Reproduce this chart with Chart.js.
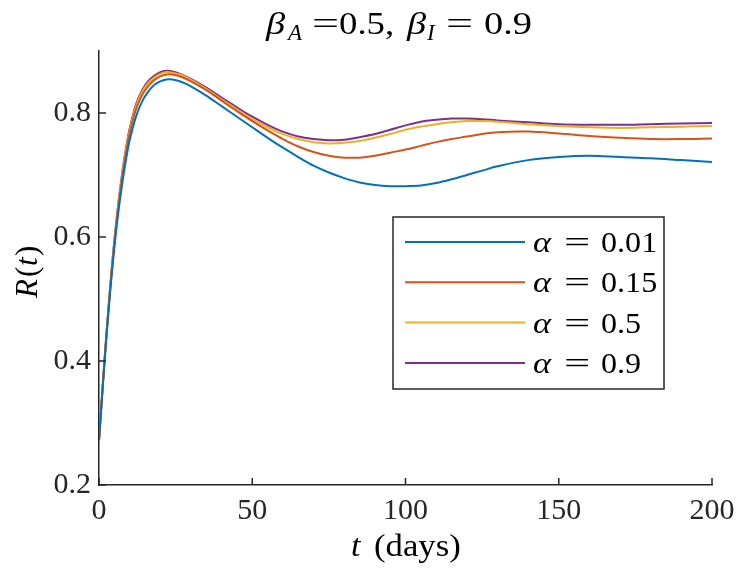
<!DOCTYPE html>
<html>
<head>
<meta charset="utf-8">
<script src="https://cdn.jsdelivr.net/npm/chart.js@4.4.1/dist/chart.umd.min.js"></script>
<style>
html,body{margin:0;padding:0;background:#fff;}
canvas{display:block;}
</style>
</head>
<body>
<canvas id="c" width="747" height="576"></canvas>
<script>
// ---- data ----
const tDays = [0,1,2,3,4,5,6,7,8,9,10,12,14,16,18,20,22,24,27,30,35,40,45,50,55,60,65,70,75,80,85,90,95,100,105,110,115,120,125,130,140,150,160,170,180,190,200];
const alpha001 = [0.272,0.343,0.411,0.474,0.531,0.582,0.627,0.666,0.700,0.730,0.756,0.793,0.818,0.834,0.845,0.851,0.854,0.854,0.850,0.843,0.828,0.811,0.794,0.777,0.760,0.744,0.729,0.715,0.704,0.695,0.688,0.684,0.682,0.682,0.683,0.687,0.693,0.700,0.707,0.714,0.724,0.729,0.731,0.729,0.727,0.724,0.721];
const alpha015 = [0.272,0.344,0.414,0.478,0.537,0.590,0.636,0.676,0.711,0.741,0.767,0.805,0.828,0.843,0.853,0.859,0.862,0.862,0.858,0.851,0.837,0.820,0.803,0.787,0.772,0.758,0.746,0.737,0.731,0.728,0.728,0.731,0.736,0.741,0.747,0.753,0.758,0.762,0.766,0.769,0.770,0.767,0.763,0.760,0.758,0.758,0.759];
const alpha05 = [0.272,0.345,0.415,0.479,0.539,0.592,0.639,0.680,0.715,0.746,0.772,0.810,0.833,0.848,0.857,0.863,0.866,0.865,0.861,0.854,0.839,0.822,0.806,0.790,0.777,0.766,0.758,0.753,0.751,0.752,0.755,0.760,0.766,0.773,0.778,0.782,0.785,0.787,0.787,0.786,0.782,0.779,0.777,0.776,0.777,0.778,0.779];
const alpha09 = [0.272,0.345,0.415,0.480,0.540,0.594,0.641,0.682,0.718,0.749,0.775,0.813,0.836,0.851,0.860,0.866,0.868,0.867,0.862,0.855,0.841,0.825,0.809,0.794,0.781,0.770,0.762,0.758,0.756,0.757,0.761,0.766,0.773,0.780,0.786,0.789,0.791,0.791,0.790,0.788,0.785,0.782,0.781,0.781,0.782,0.783,0.784];
const seriesLabels = ['α = 0.01','α = 0.15','α = 0.5','α = 0.9'];
const seriesColors = ['#0072BD','#D95319','#EDB120','#7E2F8E'];
const xTicks = [0,50,100,150,200];
const yTicks = [0.2,0.4,0.6,0.8];

const FONT = '"Liberation Serif", "DejaVu Serif", serif';
const AX = '#262626';
const seriesValues = [alpha001, alpha015, alpha05, alpha09];

// draw a text run at absolute position; sx = horizontal stretch
function run(ctx, t, x, y, sz, it, sx) {
  ctx.save();
  ctx.font = (it ? 'italic ' : '') + sz + 'px ' + FONT;
  ctx.textAlign = 'left';
  ctx.textBaseline = 'alphabetic';
  ctx.translate(x, y);
  if (sx) ctx.scale(sx, 1);
  ctx.fillText(t, 0, 0);
  ctx.restore();
}

const decor = {
  id: 'decor',
  afterDatasetsDraw(chart) {
    const ctx = chart.ctx, a = chart.chartArea;
    const xs = chart.scales.x, ys = chart.scales.y;
    ctx.save();
    ctx.strokeStyle = AX; ctx.lineWidth = 1.5;
    ctx.beginPath();
    xTicks.forEach(v => { const px = xs.getPixelForValue(v); ctx.moveTo(px, a.bottom); ctx.lineTo(px, a.bottom - 7); });
    yTicks.forEach(v => { const py = ys.getPixelForValue(v); ctx.moveTo(a.left, py); ctx.lineTo(a.left + 7, py); });
    ctx.stroke();
    ctx.restore();
  },
  afterDraw(chart) {
    const ctx = chart.ctx;
    ctx.save();
    ctx.fillStyle = '#000';
    // title: β_A =0.5, β_I = 0.9
    const ty = 34;
    run(ctx, 'β', 266, ty, 32, true, 1.2);
    run(ctx, 'A', 288, ty + 6, 23, true);
    run(ctx, '=', 312, ty, 32, false, 1.5);
    run(ctx, '0.5,', 339, ty, 32, false, 1.15);
    run(ctx, 'β', 407, ty, 32, true, 1.2);
    run(ctx, 'I', 427, ty + 6, 23, true);
    run(ctx, '=', 446, ty, 32, false, 1.5);
    run(ctx, '0.9', 484, ty, 32, false, 1.2);
    // x label: t (days)
    run(ctx, 't', 351, 556, 31, true, 1.1);
    run(ctx, '(days)', 374, 556, 31, false, 1.12);
    // y label: R(t)
    ctx.save();
    ctx.translate(37, 269);
    ctx.rotate(-Math.PI / 2);
    run(ctx, 'R', -29, 0, 31, true);
    run(ctx, '(', -8, 0, 31, false);
    run(ctx, 't', 3, 0, 31, true);
    run(ctx, ')', 13, 0, 31, false);
    ctx.restore();
    // legend
    const bx = 393, by = 217, bw = 271, bh = 172;
    ctx.fillStyle = '#fff';
    ctx.fillRect(bx, by, bw, bh);
    ctx.strokeStyle = AX; ctx.lineWidth = 1.5;
    ctx.strokeRect(bx, by, bw, bh);
    chart.data.datasets.forEach((ds, i) => {
      const ly = 242 + i * 40.3;
      ctx.strokeStyle = ds.borderColor; ctx.lineWidth = 2;
      ctx.beginPath(); ctx.moveTo(405, ly); ctx.lineTo(525, ly); ctx.stroke();
      ctx.fillStyle = '#000';
      const lab = ds.label.split(' = ');
      run(ctx, lab[0], 533, ly + 10, 30, true, 1.15);
      run(ctx, '=', 564, ly + 10, 30, false, 1.55);
      run(ctx, lab[1], 601, ly + 10, 30, false, 1.07);
    });
    ctx.restore();
  }
};

const tickFont = {family: FONT, size: 30};

new Chart(document.getElementById('c'), {
  type: 'line',
  data: {
    datasets: seriesValues.map((vals, i) => ({
      label: seriesLabels[i],
      data: tDays.map((t, j) => ({x: t, y: vals[j]})),
      borderColor: seriesColors[i],
      backgroundColor: seriesColors[i],
      borderWidth: 2,
      pointRadius: 0,
      fill: false,
      tension: 0.35
    }))
  },
  options: {
    responsive: false,
    animation: false,
    devicePixelRatio: 1,
    layout: {padding: {top: 51, right: 35, left: 0, bottom: 0}},
    plugins: {legend: {display: false}, title: {display: false}, tooltip: {enabled: false}},
    scales: {
      x: {
        type: 'linear', min: 0, max: 200,
        afterBuildTicks: s => { s.ticks = xTicks.map(v => ({value: v})); },
        afterFit: s => { s.height = 576 - 485; },
        grid: {display: true, drawOnChartArea: false, drawTicks: false},
        border: {display: true, color: AX, width: 1.5},
        ticks: {font: tickFont, color: AX, padding: 8, maxRotation: 0, autoSkip: false, callback: v => String(v)}
      },
      y: {
        type: 'linear', min: 0.2, max: 0.9,
        afterBuildTicks: s => { s.ticks = yTicks.map(v => ({value: v})); },
        afterFit: s => { s.width = 99; },
        grid: {display: true, drawOnChartArea: false, drawTicks: false},
        border: {display: true, color: AX, width: 1.5},
        ticks: {font: tickFont, color: AX, padding: 8, autoSkip: false, callback: v => String(Math.round(v * 10) / 10)}
      }
    }
  },
  plugins: [decor]
});
</script>
</body>
</html>
